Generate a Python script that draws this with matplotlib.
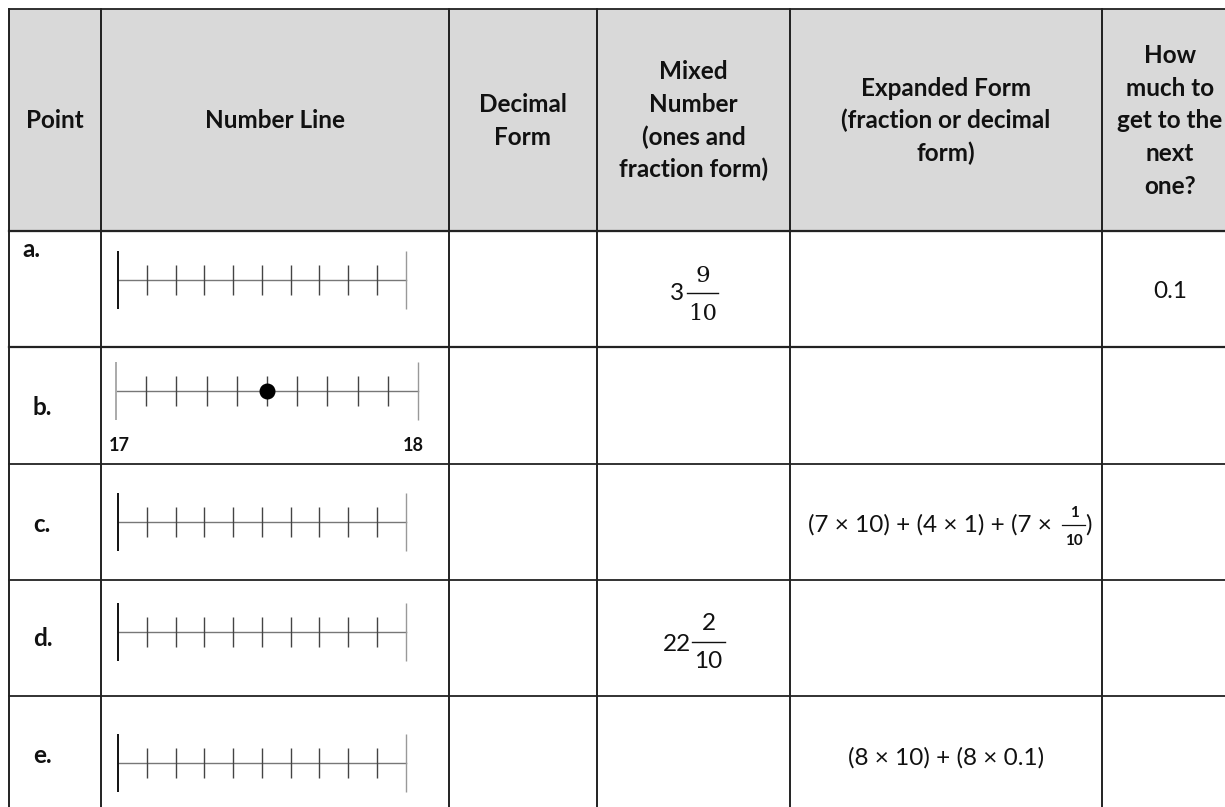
import matplotlib
matplotlib.use("Agg")
import matplotlib.pyplot as plt
import numpy as np

# ---- table content ----
header_lines = [
    ["Point"],
    ["Number Line"],
    ["Decimal", "Form"],
    ["Mixed", "Number", "(ones and", "fraction form)"],
    ["Expanded Form", "(fraction or decimal", "form)"],
    ["How", "much to", "get to the", "next", "one?"],
]
point_labels = ["a.", "b.", "c.", "d.", "e."]
line_start = [0, 17, 0, 0, 0]
line_end = [1, 18, 1, 1, 1]
line_start_labels = ["", "17", "", "", ""]
line_end_labels = ["", "18", "", "", ""]
divisions = [10, 10, 10, 10, 10]
dot_values = [None, 17.5, None, None, None]
mixed_whole = ["3", "", "", "22", ""]
mixed_num = ["9", "", "", "2", ""]
mixed_den = ["10", "", "", "10", ""]
expanded_text = ["", "", "(7 × 10) + (4 × 1) + (7 × ", "", "(8 × 10) + (8 × 0.1)"]
expanded_frac = [None, None, ("1", "10"), None, None]
how_much = ["0.1", "", "", "", ""]

W, H = 1225, 807
fig = plt.figure(figsize=(W / 100, H / 100), dpi=100)
ax = fig.add_axes([0, 0, 1, 1])
ax.set_xlim(0, W)
ax.set_ylim(H, 0)
ax.axis("off")

FONT = "Lato"
FS = 17.5
INK = "#111111"
col_edges = [8.5, 101, 449, 597, 790, 1102, 1238]
row_edges = [9, 231, 347, 464, 580, 696, 812]
col_cx = [(col_edges[i] + col_edges[i + 1]) / 2 for i in range(6)]

# header background
ax.add_patch(plt.Rectangle((col_edges[0], row_edges[0]), W - col_edges[0],
                           row_edges[1] - row_edges[0], color="#d9d9d9", zorder=0))
# grid
for x in col_edges[:-1]:
    ax.plot([x, x], [row_edges[0], row_edges[-1]], color=INK, lw=1.3, zorder=2)
for i, y in enumerate(row_edges[:-1]):
    ax.plot([col_edges[0], W + 5], [y, y], color="#222222",
            lw=1.6 if i in (1, 2) else 1.3, zorder=2)

# header text
hs = 32.7
hb = 128.5
for c, lines in enumerate(header_lines):
    n = len(lines)
    for i, t in enumerate(lines):
        ax.text(col_cx[c], hb + (i - (n - 1) / 2) * hs, t, ha="center", va="baseline",
                fontsize=FS, fontweight="bold", family=FONT, color=INK)

# row labels
label_x = [22, 33, 33, 33, 33]
label_base = [257, 415, 532, 646, 763]
for r, lab in enumerate(point_labels):
    ax.text(label_x[r], label_base[r], lab, ha="left", va="baseline", fontsize=FS,
            fontweight="bold", family=FONT, color=INK)

# number lines (each its own small axes, in pixel geometry)
nl_x0 = [118, 116, 118, 118, 118]
nl_x1 = [405.5, 418, 405.5, 405.5, 405.5]
nl_y = [280, 391, 522, 632, 763]
left_col = [INK, "#aaaaaa", INK, INK, INK]
for r in range(5):
    x0, x1, yc = nl_x0[r], nl_x1[r], nl_y[r]
    nax = fig.add_axes([x0 / W, 1 - (yc + 32) / H, (x1 - x0) / W, 64 / H])
    nax.set_xlim(line_start[r], line_end[r])
    nax.set_ylim(-32, 32)
    nax.axis("off")
    nax.patch.set_alpha(0)
    s, e = line_start[r], line_end[r]
    nax.plot([s, e], [0, 0], color="#777777", lw=1.0, clip_on=False)
    ticks = np.linspace(s, e, divisions[r] + 1)[1:-1]
    nax.vlines(ticks, -15, 15, color="#444444", lw=1.0, clip_on=False)
    nax.vlines([s], -29, 29, color=left_col[r], lw=1.4, clip_on=False)
    nax.vlines([e], -29, 29, color="#999999", lw=1.0, clip_on=False)
    if dot_values[r] is not None:
        nax.plot([dot_values[r]], [0], "o", color="black", ms=10.5, clip_on=False)

# endpoint labels for b
ax.text(119, 451, line_start_labels[1], ha="center", va="baseline", fontsize=13,
        fontweight="bold", family=FONT, color=INK)
ax.text(413, 451, line_end_labels[1], ha="center", va="baseline", fontsize=13,
        fontweight="bold", family=FONT, color=INK)

# mixed numbers
mx = {0: dict(whole_x=684, bar=(687, 718), bar_y=293, num_b=282, den_b=320, whole_b=300,
              fam="DejaVu Serif", ffs=16.5),
      3: dict(whole_x=691, bar=(692, 725), bar_y=642, num_b=630, den_b=668, whole_b=651,
              fam=FONT, ffs=FS)}
for r, g in mx.items():
    ax.text(g["whole_x"], g["whole_b"], mixed_whole[r], ha="right", va="baseline",
            fontsize=FS, family=FONT, color=INK)
    cx = (g["bar"][0] + g["bar"][1]) / 2
    ax.plot(list(g["bar"]), [g["bar_y"], g["bar_y"]], color=INK, lw=1.0)
    ax.text(cx, g["num_b"], mixed_num[r], ha="center", va="baseline", fontsize=g["ffs"],
            family=g["fam"], color=INK)
    ax.text(cx, g["den_b"], mixed_den[r], ha="center", va="baseline", fontsize=g["ffs"],
            family=g["fam"], color=INK)

# expanded forms
ax.text(1058, 532, expanded_text[2], ha="right", va="baseline", fontsize=FS,
        family=FONT, color=INK)
ax.plot([1062, 1085], [525, 525], color=INK, lw=0.9)
ax.text(1074, 517, expanded_frac[2][0], ha="center", va="baseline", fontsize=11,
        fontweight="bold", family=FONT, color=INK)
ax.text(1074, 545, expanded_frac[2][1], ha="center", va="baseline", fontsize=11,
        fontweight="bold", family=FONT, color=INK)
ax.text(1085, 532, ")", ha="left", va="baseline", fontsize=FS, family=FONT, color=INK)
ax.text(946, 765, expanded_text[4], ha="center", va="baseline", fontsize=FS,
        family=FONT, color=INK)

# how much
ax.text(1170, 298, how_much[0], ha="center", va="baseline", fontsize=FS,
        family=FONT, color=INK)

fig.savefig("out.png", dpi=100, facecolor="white")
